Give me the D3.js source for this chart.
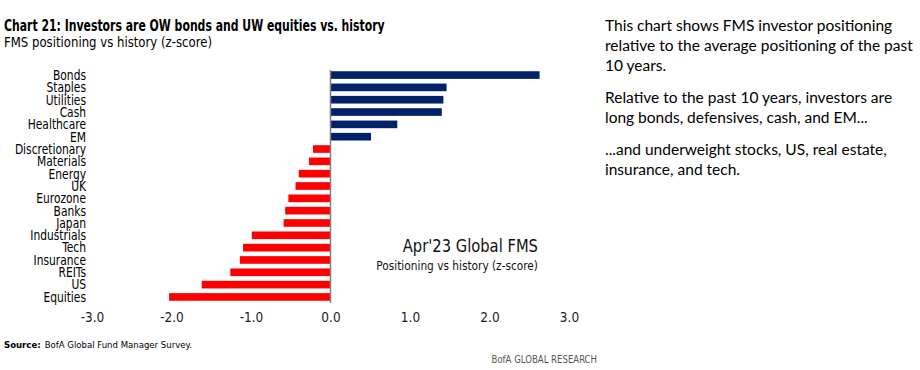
<!DOCTYPE html>
<html>
<head>
<meta charset="utf-8">
<script src="https://cdn.jsdelivr.net/npm/d3@7"></script>
<style>
  body { margin: 0; background: #fff; }
  svg { display: block; }
  .narrow { font-family: "Liberation Sans Narrow", "DejaVu Sans Condensed", sans-serif; }
  .side { font-family: Lato, "Noto Sans", sans-serif; }
</style>
</head>
<body>
<svg id="chart" width="920" height="370"></svg>
<script>
// FMS positioning vs history, z-score, Apr'23
var categories = ["Bonds", "Staples", "Utilities", "Cash", "Healthcare", "EM",
  "Discretionary", "Materials", "Energy", "UK", "Eurozone", "Banks", "Japan",
  "Industrials", "Tech", "Insurance", "REITs", "US", "Equities"];
var zscores = [2.63, 1.46, 1.42, 1.40, 0.84, 0.51,
  -0.22, -0.27, -0.40, -0.44, -0.53, -0.57, -0.59,
  -0.99, -1.10, -1.14, -1.26, -1.62, -2.03];
var ticks = [-3, -2, -1, 0, 1, 2, 3];

var side_notes = [
  ["This chart shows FMS investor positioning", "relative to the average positioning of the past", "10 years."],
  ["Relative to the past 10 years, investors are", "long bonds, defensives, cash, and EM..."],
  ["...and underweight stocks, US, real estate,", "insurance, and tech."]
];

var svg = d3.select("#chart");

var navy = "#012169";
var red  = "#ff0000";

// squeeze a text horizontally, the original uses a condensed face we don't have
function condense(sel, factor) {
  sel.each(function () {
    var w = this.getComputedTextLength();
    d3.select(this).attr("textLength", w * factor).attr("lengthAdjust", "spacingAndGlyphs");
  });
}

var x = d3.scaleLinear().domain([-3, 3]).range([92, 569]);
var y = d3.scaleBand().domain(categories).range([70, 302]).paddingInner(0.38).paddingOuter(0.1);

// titles
svg.append("text").attr("class", "narrow")
   .attr("x", 4).attr("y", 31)
   .style("font-size", "15.5px").style("font-weight", "bold").attr("fill", "#000")
   .text("Chart 21: Investors are OW bonds and UW equities vs. history")
   .call(condense, 0.78);

svg.append("text").attr("class", "narrow")
   .attr("x", 4).attr("y", 47)
   .style("font-size", "14px").attr("fill", "#000")
   .text("FMS positioning vs history (z-score)")
   .call(condense, 0.93);

// bars
svg.append("g").selectAll("rect")
   .data(zscores)
   .enter().append("rect")
   .attr("x", function (d) { return d < 0 ? x(d) : x(0); })
   .attr("y", function (d, i) { return y(categories[i]); })
   .attr("width", function (d) { return Math.abs(x(d) - x(0)); })
   .attr("height", y.bandwidth())
   .attr("fill", function (d) { return d < 0 ? red : navy; });

// zero line
svg.append("line")
   .attr("x1", x(0)).attr("x2", x(0))
   .attr("y1", 70).attr("y2", 303)
   .attr("stroke", "#7f7f7f").attr("stroke-width", 1.5);

// category labels
svg.append("g").selectAll("text")
   .data(categories)
   .enter().append("text")
   .attr("class", "narrow")
   .attr("x", 86)
   .attr("y", function (d) { return y(d) + y.bandwidth() / 2; })
   .attr("dy", "0.36em")
   .attr("text-anchor", "end")
   .style("font-size", "13.5px")
   .attr("fill", "#000")
   .text(function (d) { return d; })
   .call(condense, 0.88);

// x axis labels
var axis = d3.axisBottom(x).tickValues(ticks).tickSize(0).tickPadding(0)
             .tickFormat(d3.format(".1f"));
var gx = svg.append("g").attr("transform", "translate(0,312)").call(axis);
gx.select(".domain").remove();
gx.selectAll("text")
  .attr("class", "narrow")
  .style("font-size", "13.5px")
  .attr("fill", "#1a1a2e")
  .text(function (d) { return d3.format(".1f")(d).replace("−", "-"); });

// in-chart annotation
svg.append("text").attr("class", "narrow")
   .attr("x", 538).attr("y", 252).attr("text-anchor", "end")
   .style("font-size", "18px").attr("fill", "#111")
   .text("Apr'23 Global FMS")
   .call(condense, 0.91);
svg.append("text").attr("class", "narrow")
   .attr("x", 538).attr("y", 270).attr("text-anchor", "end")
   .style("font-size", "12.5px").attr("fill", "#111")
   .text("Positioning vs history (z-score)")
   .call(condense, 0.94);

// source + footer
var src = svg.append("text").attr("class", "narrow")
   .attr("x", 4).attr("y", 348).style("font-size", "9.5px").attr("fill", "#000");
src.append("tspan").style("font-weight", "bold").text("Source:");
src.append("tspan").attr("dx", 4).text("BofA Global Fund Manager Survey.");

svg.append("text").attr("class", "narrow")
   .attr("x", 597).attr("y", 363).attr("text-anchor", "end")
   .style("font-size", "10px").attr("fill", "#555")
   .text("BofA GLOBAL RESEARCH")
   .call(condense, 0.95);

// side notes
var line_h = 20;
var para_gap = 12;
var ty = 31;
side_notes.forEach(function (para) {
  para.forEach(function (line) {
    svg.append("text").attr("class", "side")
       .attr("x", 605).attr("y", ty)
       .style("font-size", "15.5px").attr("fill", "#000")
       .text(line);
    ty += line_h;
  });
  ty += para_gap;
});
</script>
</body>
</html>
